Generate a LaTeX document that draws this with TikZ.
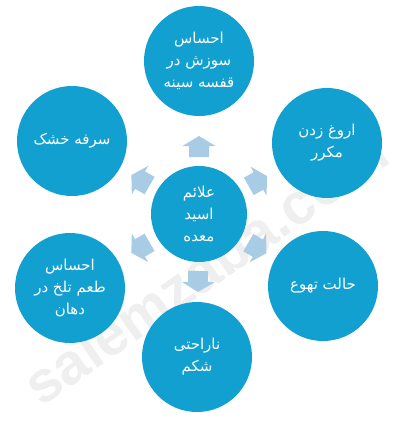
\documentclass[tikz,border=0pt]{standalone}
\usepackage{fontspec}
\newfontfamily\arabicfont[Script=Arabic]{DejaVu Sans}
\newfontfamily\wmfont{Liberation Sans}
\TeXXeTstate=1
\usetikzlibrary{calc}
\definecolor{circblue}{HTML}{12A0D0}
\definecolor{arrblue}{HTML}{A8CBE6}
\definecolor{wmgray}{HTML}{EFEFEF}
\tikzset{
  bigcirc/.style={circle, fill=circblue, minimum size=110pt, inner sep=0pt, text=white, align=center,
    font=\arabicfont\fontsize{15}{22}\selectfont},
  midcirc/.style={bigcirc, minimum size=96pt},
  arr/.style={fill=arrblue},
  wm/.style={text=wmgray, font=\wmfont\bfseries\fontsize{58}{58}\selectfont, rotate=35}
}
\newcommand\blockarr[2]{%
  \coordinate (s) at ($(#1)!57pt!(#2)$);
  \coordinate (m) at ($(#1)!68pt!(#2)$);
  \coordinate (e) at ($(#1)!78pt!(#2)$);
  \fill[arr] ($(s)!10pt!90:(e)$) -- ($(m)!10pt!90:(e)$) -- ($(m)!16.5pt!90:(e)$) -- (e)
    -- ($(m)!16.5pt!-90:(e)$) -- ($(m)!10pt!-90:(e)$) -- ($(s)!10pt!-90:(e)$) -- cycle;
}
\begin{document}
\begin{tikzpicture}[x=1pt, y=-1pt]
\useasboundingbox (0,0) rectangle (403,426);
\node[wm] (wmk) at (205,268) {salemzaba.com};
\node[midcirc] (c) at (199,214) {\beginR علائم\endR\\\beginR اسید\endR\\\beginR معده\endR};
\node[bigcirc] (t) at (199,61) {\beginR احساس\endR\\\beginR سوزش در\endR\\\beginR قفسه سینه\endR};
\node[bigcirc] (ul) at (72,141) {\beginR سرفه خشک\endR};
\node[bigcirc] (ur) at (327,143) {\beginR اروغ زدن\endR\\\beginR مکرر\endR};
\node[bigcirc] (ll) at (70,288) {\beginR احساس\endR\\\beginR طعم تلخ در\endR\\\beginR دهان\endR};
\node[bigcirc] (lr) at (323,286) {\beginR حالت تهوع\endR};
\node[bigcirc] (b) at (197,357) {\beginR ناراحتی\endR\\\beginR شکم\endR};
\blockarr{c}{t}
\blockarr{c}{ul}
\blockarr{c}{ur}
\blockarr{c}{ll}
\blockarr{c}{lr}
\blockarr{c}{b}
\end{tikzpicture}
\end{document}
